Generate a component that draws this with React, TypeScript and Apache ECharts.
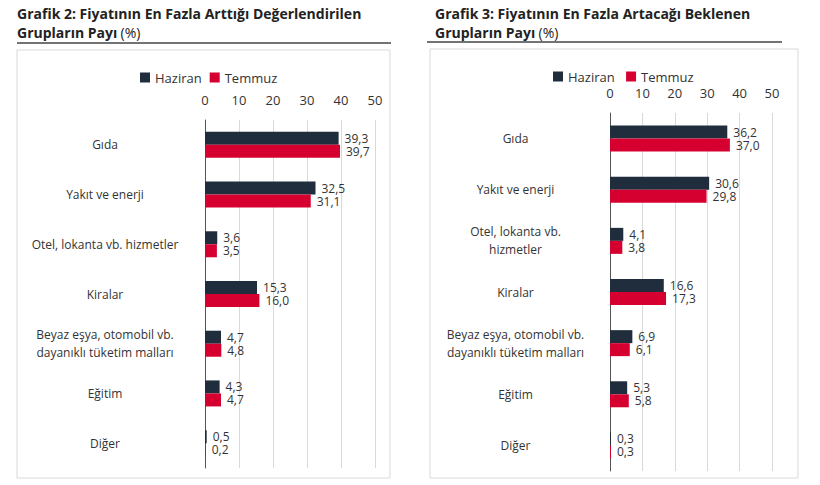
import React, { useEffect, useRef } from 'react';
import * as echarts from 'echarts';

const categoriesLeft = ['Gıda', 'Yakıt ve enerji', 'Otel, lokanta vb. hizmetler', 'Kiralar', 'Beyaz eşya, otomobil vb.\ndayanıklı tüketim malları', 'Eğitim', 'Diğer'];
const categoriesRight = ['Gıda', 'Yakıt ve enerji', 'Otel, lokanta vb.\nhizmetler', 'Kiralar', 'Beyaz eşya, otomobil vb.\ndayanıklı tüketim malları', 'Eğitim', 'Diğer'];
const haziranLeft = [39.3, 32.5, 3.6, 15.3, 4.7, 4.3, 0.5];
const temmuzLeft = [39.7, 31.1, 3.5, 16.0, 4.8, 4.7, 0.2];
const haziranRight = [36.2, 30.6, 4.1, 16.6, 6.9, 5.3, 0.3];
const temmuzRight = [37.0, 29.8, 3.8, 17.3, 6.1, 5.8, 0.3];

const NAVY = '#1f2d3d';
const RED = '#d5002f';
const FONT = '"Open Sans", sans-serif';

const fmt = (v: number) => v.toFixed(1).replace('.', ',');

const App: React.FC = () => {
  const chartRef = useRef<HTMLDivElement>(null);

  useEffect(() => {
    document.body.style.margin = '0';
    if (!chartRef.current) return;
    const myChart = echarts.init(chartRef.current, null, { renderer: 'svg' });

    const grids = [
      { left: 205, width: 170, top: 120, height: 348 },
      { left: 610, width: 162, top: 113, height: 358 },
    ];

    const xAxis = (gi: number) => ({
      type: 'value' as const,
      gridIndex: gi,
      position: 'top' as const,
      min: 0,
      max: 50,
      interval: 10,
      axisLine: { show: false },
      axisTick: { show: false },
      axisLabel: { color: '#333', fontSize: 13, fontFamily: FONT, margin: 14 },
      splitLine: { lineStyle: { color: '#d9d9d9' } },
    });

    const yAxis = (gi: number, cats: string[], w: number) => ({
      type: 'category' as const,
      gridIndex: gi,
      data: cats,
      inverse: true,
      axisLine: { lineStyle: { color: '#555' } },
      axisTick: { show: false },
      axisLabel: {
        margin: 12,
        align: 'right' as const,
        formatter: (v: string) => v.split('\n').map((l) => `{c|${l}}`).join('\n'),
        rich: { c: { width: w, align: 'center' as const, color: '#333', fontSize: 12, fontFamily: FONT, lineHeight: 18 } },
      },
    });

    const bar = (name: string, data: number[], color: string, gi: number) => ({
      name,
      type: 'bar' as const,
      xAxisIndex: gi,
      yAxisIndex: gi,
      data,
      barWidth: 13,
      barGap: '0%',
      itemStyle: { color },
      label: {
        show: true,
        position: 'right' as const,
        formatter: (p: any) => fmt(p.value),
        color: '#333',
        fontSize: 12,
        fontFamily: FONT,
        distance: 6,
      },
    });

    const titleText = (x: number, lines: string[]) => ({
      type: 'text',
      left: x,
      top: 6,
      style: {
        text: `{b|${lines[0]}}\n{b|${lines[1]}} {n|(%)}`,
        rich: {
          b: { fontSize: 14, fontWeight: 'bold', fontFamily: FONT, fill: '#222', lineHeight: 19 },
          n: { fontSize: 14, fontFamily: FONT, fill: '#222', lineHeight: 19 },
        },
      },
    });

    const legendStyle = { itemWidth: 10, itemHeight: 10, itemGap: 8, icon: 'rect', textStyle: { fontSize: 13, color: '#333', fontFamily: FONT } };

    const option: echarts.EChartsOption = {
      animation: false,
      textStyle: { fontFamily: FONT },
      grid: grids,
      legend: [
        { data: ['Haziran', 'Temmuz'], left: 135, top: 66, ...legendStyle },
        { data: ['Haziran ', 'Temmuz '], left: 548, top: 65, ...legendStyle },
      ],
      xAxis: [xAxis(0), xAxis(1)],
      yAxis: [yAxis(0, categoriesLeft, 176), yAxis(1, categoriesRight, 165)],
      series: [
        bar('Haziran', haziranLeft, NAVY, 0),
        bar('Temmuz', temmuzLeft, RED, 0),
        bar('Haziran ', haziranRight, NAVY, 1),
        bar('Temmuz ', temmuzRight, RED, 1),
      ],
      graphic: [
        titleText(17, ['Grafik 2: Fiyatının En Fazla Arttığı Değerlendirilen', 'Grupların Payı']),
        titleText(435, ['Grafik 3: Fiyatının En Fazla Artacağı Beklenen', 'Grupların Payı']),
        { type: 'line', shape: { x1: 17, y1: 43, x2: 391, y2: 43 }, style: { stroke: '#444', lineWidth: 1.5 } },
        { type: 'line', shape: { x1: 427, y1: 42, x2: 782, y2: 42 }, style: { stroke: '#444', lineWidth: 1.5 } },
        { type: 'rect', shape: { x: 17, y: 50, width: 373, height: 428 }, style: { fill: 'none', stroke: '#d9d9d9', lineWidth: 1 }, z: -1 },
        { type: 'rect', shape: { x: 430, y: 49, width: 368, height: 429 }, style: { fill: 'none', stroke: '#d9d9d9', lineWidth: 1 }, z: -1 },
      ],
    };

    myChart.setOption(option);
    return () => myChart.dispose();
  }, []);

  return <div ref={chartRef} style={{ width: 820, height: 485 }} />;
};

export default App;
